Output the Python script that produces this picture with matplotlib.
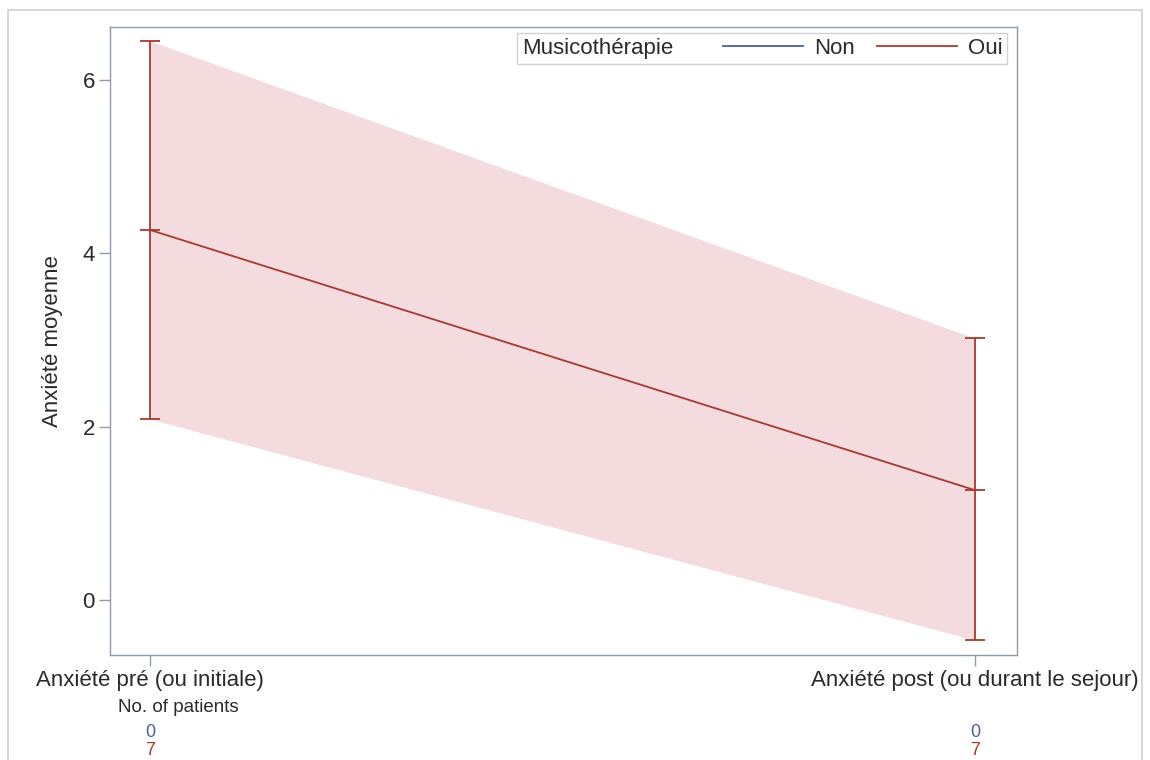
import numpy as np
import matplotlib
matplotlib.use("Agg")
import matplotlib.pyplot as plt
from matplotlib.lines import Line2D
from matplotlib.patches import Rectangle
from matplotlib.offsetbox import HPacker
import matplotlib.transforms as mtransforms

plt.rcParams['font.family'] = ['Liberation Sans', 'DejaVu Sans']

# data
categories = ["Anxiété pré (ou initiale)", "Anxiété post (ou durant le sejour)"]
oui_mean = [4.27, 1.27]
oui_lower = [2.09, -0.46]
oui_upper = [6.45, 3.02]
n_non = [0, 0]
n_oui = [7, 7]
yticks = [0, 2, 4, 6]

blue = '#4a5fa6'
red = '#a63a30'
fill = '#f3dbde'
frame = '#8e9ba8'
txt = '#2a2a2a'

fig = plt.figure(figsize=(11.5, 7.6), dpi=100)
ax = fig.add_axes([0.0957, 0.1382, 0.7887, 0.8263])

x = np.arange(len(categories))
mean = np.array(oui_mean)
lo = np.array(oui_lower)
hi = np.array(oui_upper)

ax.fill_between(x, lo, hi, color=fill, linewidth=0, zorder=1)
ax.plot(x, mean, color=red, lw=1.3, zorder=3)
ax.errorbar(x, mean, yerr=[mean - lo, hi - mean], fmt='none', ecolor=red,
            elinewidth=1.3, capsize=7, capthick=1.3, zorder=3)
ax.plot(x, mean, linestyle='none', marker='_', markersize=14, color=red, mew=1.3, zorder=4)

ax.set_xlim(-0.0485, 1.051)
ax.set_ylim(-0.63, 6.61)
ax.set_xticks(x)
ax.set_xticklabels(categories, fontsize=16, color=txt)
ax.set_yticks(yticks)
ax.set_yticklabels([str(t) for t in yticks], fontsize=16, color=txt)
ax.tick_params(axis='both', length=8, width=1, color=frame, pad=3)
for s in ax.spines.values():
    s.set_color(frame)
    s.set_linewidth(1)
ax.set_ylabel("Anxiété moyenne", fontsize=16, color=txt, labelpad=14)

# patient counts under the axis
trans = mtransforms.blended_transform_factory(ax.transData, ax.transAxes)
ax.text(0.075, -0.083, "No. of patients", transform=ax.transAxes, ha='center',
        va='center', fontsize=13.5, color=txt)
for xi, a, b in zip(x, n_non, n_oui):
    ax.text(xi, -0.123, str(a), transform=trans, ha='center', va='center',
            fontsize=13, color=blue)
    ax.text(xi, -0.152, str(b), transform=trans, ha='center', va='center',
            fontsize=13, color=red)

# legend: title placed to the left of the entries
handles = [Line2D([], [], color=blue, lw=1.3),
           Line2D([], [], color=red, lw=1.3)]
leg = ax.legend(handles, ["Non", "Oui"], title="Musicothérapie", loc='upper right',
                ncol=2, fontsize=16, title_fontsize=16, frameon=True, fancybox=False,
                edgecolor='#c8c8c8', handlelength=3.6, handletextpad=0.5,
                columnspacing=1.0, borderpad=0.15, borderaxespad=0,
                bbox_to_anchor=(0.989, 0.990))
leg.get_frame().set_linewidth(1)
leg.get_title().set_color(txt)
for t in leg.get_texts():
    t.set_color(txt)
fs = 16 * 100 / 72
box = HPacker(pad=0.15 * fs, sep=1.6 * fs, align='center',
              children=[leg._legend_title_box, leg._legend_handle_box])
box.set_figure(fig)
box.axes = ax
box.set_offset(leg._findoffset)
leg._legend_box = box

# outer light border
fig.patches.append(Rectangle((8 / 1150, -0.01), 1134 / 1150, 1 - 10 / 760 + 0.01,
                             transform=fig.transFigure, fill=False,
                             edgecolor='#d0d0d0', lw=1.2))

fig.savefig("out.png", dpi=100)
